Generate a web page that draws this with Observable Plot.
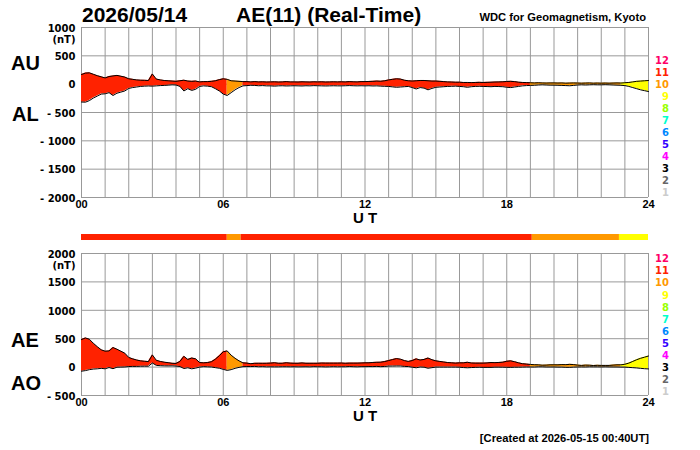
<!DOCTYPE html>
<html><head><meta charset="utf-8">
<script src="https://cdn.jsdelivr.net/npm/d3@7"></script>
<script src="https://cdn.jsdelivr.net/npm/@observablehq/plot@0.6"></script>
<style>
body{margin:0;background:#fff;}
#wrap{position:relative;width:700px;height:450px;overflow:hidden;font-family:"Liberation Sans",Arial,Helvetica,sans-serif;}
#wrap svg{position:absolute;left:0;}
.lbl{position:absolute;white-space:nowrap;font-weight:bold;color:#000;}
</style></head><body><div id="wrap"></div>
<script>
const dateText = "2026/05/14";
const titleText = "AE(11) (Real-Time)";
const sourceText = "WDC for Geomagnetism, Kyoto";
const createdText = "[Created at 2026-05-15 00:40UT]";
const sampleMinutes = 10;

const AU = [170,195,200,175,150,130, 110,135,145,155,140,125, 95,85,75,70,68,65, 180,90,75,65,60,55,
 50,60,70,55,50,55, 40,45,45,50,60,80, 95,85,60,55,50,45, 45,40,45,40,42,38,
 40,42,38,40,45,40, 40,38,42,40,38,42, 40,42,38,40,42,40, 42,40,45,42,40,45,
 45,48,50,55,52,60, 75,85,95,90,70,60, 55,60,65,65,60,55, 55,50,45,40,38,35,
 35,30,30,28,30,32, 30,32,35,38,40,42, 48,50,45,35,30,28, 25,22,25,22,20,22,
 22,20,22,18,20,22, 20,18,20,22,18,20, 18,20,18,20,22,20, 25,30,40,50,55,60, 65];
const AL = [-315,-318,-290,-245,-210,-175, -170,-150,-200,-160,-140,-120, -75,-60,-50,-40,-35,-32, -35,-30,-25,-22,-18,-12,
 -15,-40,-120,-80,-110,-90, -40,-30,-35,-45,-80,-120, -175,-200,-150,-100,-60,-30, -25,-20,-22,-28,-25,-30,
 -30,-35,-30,-28,-32,-30, -28,-30,-32,-28,-30,-26, -28,-30,-32,-30,-28,-30, -30,-28,-25,-28,-30,-28,
 -30,-28,-32,-30,-35,-38, -40,-48,-55,-50,-45,-40, -60,-85,-60,-70,-100,-75, -55,-50,-45,-40,-38,-35,
 -40,-45,-55,-45,-40,-38, -40,-42,-45,-40,-42,-45, -55,-60,-50,-40,-30,-25, -22,-20,-15,-12,-15,-18,
 -18,-20,-22,-25,-28,-22, -15,-12,-15,-12,-10,-12, -12,-10,-12,-15,-18,-20, -25,-40,-60,-80,-100,-115, -130];
const AE = [485,513,490,420,360,305, 280,285,345,315,280,245, 170,145,125,110,103,97, 215,120,100,87,78,67,
 65,100,190,135,160,145, 80,75,80,95,140,200, 270,285,210,155,110,75, 70,60,67,68,67,68,
 70,77,68,68,77,70, 68,68,74,68,68,68, 68,72,70,70,70,70, 72,68,70,70,70,73,
 75,76,82,85,87,98, 115,133,150,140,115,100, 115,145,125,135,160,130, 110,100,90,80,76,70,
 75,75,85,73,70,70, 70,74,80,78,82,87, 103,110,95,75,60,53, 47,42,40,34,35,40,
 40,40,44,43,48,44, 35,30,35,34,28,32, 30,30,30,35,40,40, 50,70,100,130,155,175, 195];
const AO = [-72,-62,-45,-35,-30,-22, -30,-8,-28,-2,0,2, 10,12,12,15,16,16, 72,30,25,22,21,22,
 18,10,-25,-12,-30,-18, 0,8,5,2,-10,-20, -40,-58,-45,-22,-5,8, 10,10,12,6,8,4,
 5,4,4,6,6,5, 6,4,5,6,4,8, 6,6,3,5,7,5, 6,6,10,7,5,8,
 8,10,9,12,8,11, 18,18,20,20,12,10, -2,-12,2,-2,-20,-10, 0,0,0,0,0,0,
 -2,-8,-12,-8,-5,-3, -5,-5,-5,-1,-1,-2, -4,-5,-2,-2,0,2, 2,1,5,5,2,2,
 2,0,0,-4,-4,0, 2,3,2,5,4,4, 3,5,3,2,2,0, 0,-5,-10,-15,-22,-28, -32];

const segStart = [0, 6.17, 6.76, 19.08, 22.77];
const segEnd = [6.17, 6.76, 19.08, 22.77, 24];
const segStations = [11, 10, 11, 10, 9];

const stationLevels = [12, 11, 10, 9, 8, 7, 6, 5, 4, 3, 2, 1];
const stationColors = ["#ff0066", "#ff2200", "#ff9900", "#ffff00", "#99ff00", "#00ffcc", "#0088ff", "#3300ff", "#ff00ff", "#000000", "#666666", "#cccccc"];

const gridHours = d3.range(0, 25);
const hourTicks = [0, 6, 12, 18, 24];
const hourLabels = ["00", "06", "12", "18", "24"];
const topTicks = [1000, 500, 0, -500, -1000, -1500, -2000];
const topTickLabels = ["1000", "500", "0", "- 500", "- 1000", "- 1500", "- 2000"];
const botTicks = [2000, 1500, 1000, 500, 0, -500];
const botTickLabels = ["2000", "1500", "1000", "500", "0", "- 500"];
const unitLabel = "(nT)";
const axisName = "U T";

const LIB = '"Liberation Sans", Arial, Helvetica, sans-serif';
const DJV = '"DejaVu Sans", Verdana, sans-serif';
const wrap = document.getElementById("wrap");
const colorOf = n => stationColors[stationLevels.indexOf(n)];
const times = AU.map((_, i) => i * sampleMinutes / 60);

function panel(hi, lo, yDomain, ticks, tickLabels, height) {
  const rows = [];
  segStart.forEach((s, k) => {
    const a = Math.round(s * 60 / sampleMinutes), b = Math.round(segEnd[k] * 60 / sampleMinutes);
    for (let i = a; i <= b; i++) rows.push({t: times[i], hi: hi[i], lo: lo[i], seg: k, color: colorOf(segStations[k])});
  });
  const pts = times.map((t, i) => ({t, hi: hi[i], lo: lo[i]}));
  return Plot.plot({
    width: 700, height, marginLeft: 81, marginRight: 52, marginTop: 27, marginBottom: 30,
    x: {domain: [0, 24], axis: null},
    y: {domain: yDomain, axis: null},
    color: {type: "identity"},
    style: {background: "none", overflow: "visible"},
    marks: [
      Plot.ruleX(gridHours, {x: d => d, stroke: "#999", strokeWidth: 1}),
      Plot.ruleY(ticks, {y: d => d, stroke: "#999", strokeWidth: 1}),
      Plot.areaY(rows, {x: "t", y1: "lo", y2: "hi", z: "seg", fill: "color"}),
      Plot.lineY(pts, {x: "t", y: "hi", stroke: "#000", strokeWidth: 1}),
      Plot.lineY(pts, {x: "t", y: "lo", stroke: "#000", strokeWidth: 1}),
      Plot.text(ticks, {x: () => 0, y: d => d, text: (d, i) => tickLabels[i], textAnchor: "end", dx: -6, dy: 1,
        fontFamily: DJV, fontSize: 10, fontWeight: "bold", fill: "#000"}),
      Plot.text([ticks[0]], {x: () => 0, y: d => d, text: () => unitLabel, textAnchor: "end", dx: -6, dy: 12,
        fontFamily: DJV, fontSize: 10, fontWeight: "bold", fill: "#000"}),
      Plot.text(hourTicks, {x: d => d, y: () => yDomain[0], text: (d, i) => hourLabels[i], dy: 7,
        fontFamily: LIB, fontSize: 11, fontWeight: "bold", fill: "#000"}),
      Plot.text([axisName], {x: () => 12, y: () => yDomain[0], text: d => d, dy: 21,
        fontFamily: LIB, fontSize: 15, fontWeight: "bold", fill: "#000"})
    ]
  });
}

const topPanel = panel(AU, AL, [-2000, 1000], topTicks, topTickLabels, 227);
topPanel.style.top = "0px";
wrap.appendChild(topPanel);

const botPanel = panel(AE, AO, [-500, 2000], botTicks, botTickLabels, 199);
botPanel.style.top = "226px";
wrap.appendChild(botPanel);

const segs = segStart.map((s, k) => ({s, e: segEnd[k], color: colorOf(segStations[k])}));
const barPlot = Plot.plot({
  width: 700, height: 6, marginLeft: 81, marginRight: 52, marginTop: 0, marginBottom: 0,
  x: {domain: [0, 24], axis: null},
  color: {type: "identity"},
  style: {background: "none"},
  marks: [Plot.rect(segs, {x1: "s", x2: "e", fill: "color"})]
});
barPlot.style.top = "234px";
wrap.appendChild(barPlot);

function label(txt, x, baseline, size, anchor, color, family) {
  const d = document.createElement("div");
  d.className = "lbl";
  d.textContent = txt;
  d.style.fontSize = size + "px";
  d.style.lineHeight = size + "px";
  d.style.fontFamily = family || LIB;
  d.style.top = (baseline - 0.8465 * size) + "px";
  d.style.color = color || "#000";
  if (anchor === "end") d.style.right = (700 - x) + "px"; else d.style.left = x + "px";
  wrap.appendChild(d);
}
label(dateText, 82, 22, 21);
label(titleText, 236, 22, 21);
label(sourceText, 646, 21.5, 11.2, "end");
label("AU", 11, 70, 20);
label("AL", 12, 121, 20);
label("AE", 11, 347, 20);
label("AO", 11, 390, 20);
label(createdText, 649, 442.5, 11.2, "end");
stationLevels.forEach((n, i) => {
  label(String(n), 669, 60.5 + 12.05 * i + 3.7, 10, "end", stationColors[i], DJV);
  label(String(n), 669, 259 + 12.1 * i + 3.7, 10, "end", stationColors[i], DJV);
});
</script></body></html>
